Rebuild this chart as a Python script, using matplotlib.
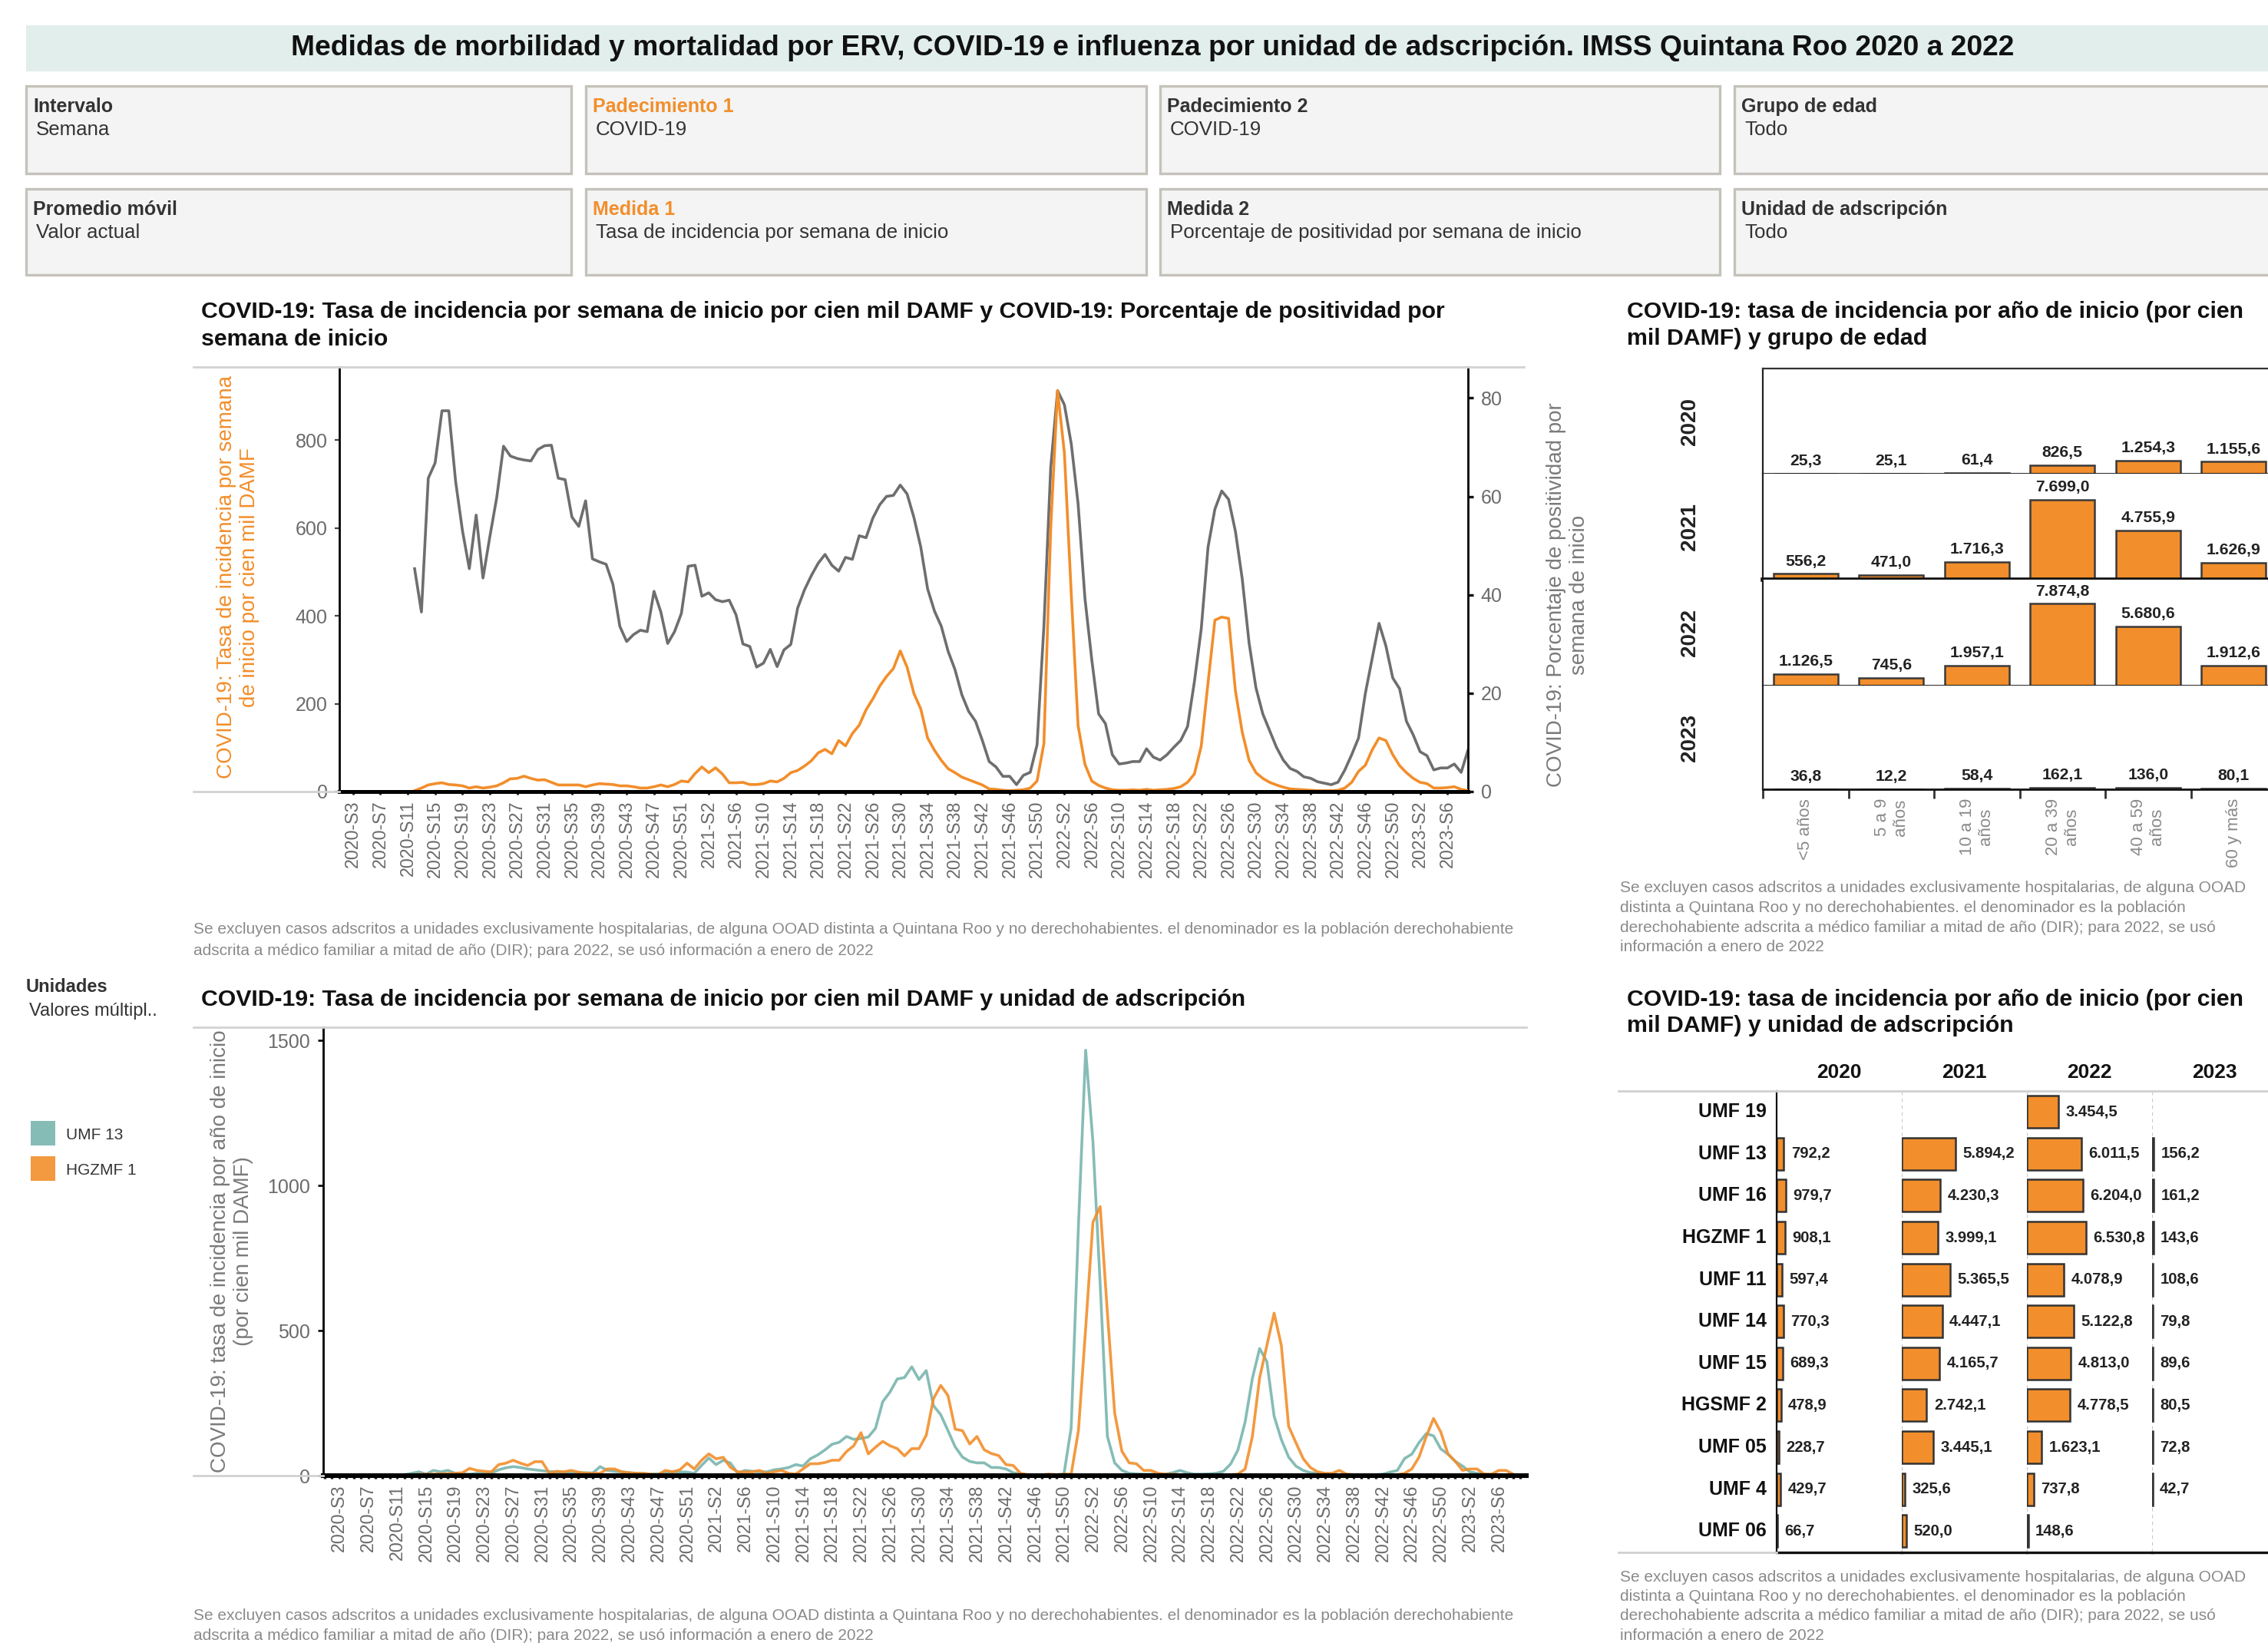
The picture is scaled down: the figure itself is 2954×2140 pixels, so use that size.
import numpy as np
import matplotlib
matplotlib.use("Agg")
import matplotlib.pyplot as plt
from matplotlib.lines import Line2D
from matplotlib.patches import Rectangle

plt.rcParams['font.family'] = ['Liberation Sans', 'DejaVu Sans']

W, H, DPI = 2954, 2140, 200

ORANGE = '#f28e2b'
TEAL = '#86bcb6'
GRAY_LINE = '#6e6e6e'
TXT = '#333333'
TICK = '#6b6b6b'
NOTE = '#8a8a8a'
TITLE_SIZE = 10.9

# ---- weekly series (2020-S1 .. 2023-S9) ----
years = [2020, 2021, 2022, 2023]
weeks_per_year = [53, 52, 52, 9]
week_labels = [f"{y}-S{w}" for y, n in zip(years, weeks_per_year) for w in range(1, n + 1)]

# COVID-19 incidence per 100k DAMF (left axis)
incidencia = [None] * 11 + [
    2, 8, 15, 18, 20, 16, 15, 13, 8, 11,
    8, 10, 13, 20, 29, 30, 35, 30, 26, 27,
    21, 15, 15, 15, 15, 11, 15, 18, 17, 16,
    13, 13, 11, 8, 8, 11, 15, 11, 16, 24,
    22, 41, 56, 43, 54, 40, 20, 20, 21, 16,
    16, 18, 24, 22, 30, 43, 48, 58, 70, 88,
    96, 86, 116, 104, 132, 151, 186, 211, 240, 262,
    280, 320, 283, 223, 188, 122, 94, 71, 52, 43,
    33, 27, 21, 15, 6, 5, 3, 2, 3, 4,
    8, 24, 109, 600, 912, 770, 450, 150, 62, 24,
    14, 8, 4, 3, 3, 4, 3, 5, 3, 4,
    5, 7, 11, 21, 40, 103, 248, 390, 397, 394,
    229, 135, 71, 43, 30, 21, 15, 10, 6, 5,
    4, 3, 2, 2, 2, 3, 8, 21, 46, 60,
    95, 122, 116, 84, 59, 43, 30, 21, 18, 8,
    8, 9, 11, 5, 2]

# COVID-19 positivity % (right axis)
positividad = [None] * 11 + [
    45.3, 36.5, 63.7, 66.8, 77.4, 77.4, 63.0, 53.0, 45.3, 56.2,
    43.4, 51.8, 59.7, 70.2, 68.2, 67.7, 67.4, 67.2, 69.5, 70.3,
    70.4, 63.7, 63.4, 55.8, 53.9, 59.1, 47.3, 46.7, 46.2, 42.1,
    33.6, 30.5, 31.9, 32.8, 32.5, 40.7, 36.5, 30.1, 32.5, 36.2,
    45.8, 46.0, 39.7, 40.4, 39.0, 38.6, 38.9, 35.9, 30.0, 29.5,
    25.3, 26.1, 28.9, 25.4, 28.8, 29.9, 37.3, 41.0, 43.9, 46.4,
    48.2, 46.0, 44.8, 47.6, 47.2, 52.0, 51.6, 55.6, 58.3, 60.0,
    60.2, 62.3, 60.5, 55.7, 49.7, 41.2, 36.7, 33.6, 28.5, 24.8,
    19.7, 16.3, 14.3, 10.4, 6.1, 5.0, 3.1, 3.1, 1.4, 3.3,
    3.9, 9.5, 33.6, 65.9, 81.5, 78.6, 70.7, 58.5, 39.3, 26.8,
    15.8, 13.8, 7.5, 5.6, 5.8, 6.1, 6.1, 8.7, 7.0, 6.4,
    7.5, 9.0, 10.4, 13.2, 22.3, 33.0, 49.7, 57.4, 61.1, 59.4,
    52.9, 43.2, 30.2, 21.1, 15.8, 12.4, 9.0, 6.4, 4.7, 4.1,
    3.0, 2.7, 2.0, 1.7, 1.4, 1.9, 4.4, 7.5, 10.9, 20.0,
    27.1, 34.2, 29.6, 23.1, 20.9, 14.3, 11.5, 8.1, 7.3, 4.4,
    4.8, 4.8, 5.6, 3.9, 8.4]

# incidence by unit
umf13 = [None] * 11 + [
    3, 8, 13, 5, 18, 13, 18, 8, 6, 5,
    8, 8, 8, 20, 27, 31, 28, 23, 20, 17,
    14, 13, 11, 10, 10, 10, 9, 31, 18, 15,
    13, 10, 8, 7, 5, 6, 10, 13, 13, 12,
    8, 35, 61, 38, 53, 43, 8, 18, 15, 13,
    13, 20, 23, 28, 38, 33, 58, 71, 88, 108,
    115, 135, 125, 128, 133, 163, 255, 288, 333, 338,
    375, 331, 362, 241, 210, 155, 99, 64, 49, 44,
    44, 28, 28, 23, 10, 5, 3, 3, 3, 3,
    3, 5, 165, 860, 1466, 1150, 660, 135, 44, 18,
    8, 6, 5, 5, 4, 5, 10, 18, 10, 5,
    5, 6, 8, 15, 40, 88, 185, 335, 438, 393,
    205, 124, 64, 33, 18, 10, 8, 5, 3, 3,
    3, 3, 3, 3, 3, 5, 12, 18, 59, 74,
    114, 145, 137, 92, 74, 49, 33, 13, 8, 5,
    3, 3, 3, 3, None]

hgzmf1 = [None] * 11 + [
    3, 3, 4, 5, 5, 6, 7, 8, 10, 25,
    18, 15, 13, 38, 43, 53, 43, 35, 48, 48,
    8, 15, 13, 18, 12, 8, 8, 8, 23, 23,
    13, 10, 8, 8, 5, 3, 18, 13, 20, 43,
    23, 53, 75, 58, 63, 28, 13, 13, 13, 18,
    8, 13, 18, 8, 5, 23, 41, 41, 45, 53,
    53, 83, 103, 148, 75, 98, 118, 103, 93, 68,
    93, 93, 139, 265, 311, 276, 160, 155, 109, 135,
    89, 76, 69, 38, 35, 8, 3, 3, 3, 5,
    3, 5, 5, 155, 509, 873, 927, 560, 216, 84,
    44, 41, 18, 18, 8, 5, 5, 3, 3, 3,
    3, 3, 3, 3, 3, 5, 23, 135, 337, 448,
    560, 448, 170, 114, 59, 28, 13, 8, 8, 18,
    5, 3, 3, 3, 3, 3, 3, 3, 8, 23,
    64, 135, 197, 150, 74, 49, 18, 23, 23, 5,
    5, 18, 18, 5, None]

# ---- yearly incidence by age group ----
anios = ['2020', '2021', '2022', '2023']
grupos = ['<5 años', '5 a 9\naños', '10 a 19\naños', '20 a 39\naños', '40 a 59\naños', '60 y más']
edad_2020 = [25.3, 25.1, 61.4, 826.5, 1254.3, 1155.6]
edad_2021 = [556.2, 471.0, 1716.3, 7699.0, 4755.9, 1626.9]
edad_2022 = [1126.5, 745.6, 1957.1, 7874.8, 5680.6, 1912.6]
edad_2023 = [36.8, 12.2, 58.4, 162.1, 136.0, 80.1]

# ---- yearly incidence by unit ----
unidades = ['UMF 19', 'UMF 13', 'UMF 16', 'HGZMF 1', 'UMF 11', 'UMF 14',
            'UMF 15', 'HGSMF 2', 'UMF 05', 'UMF 4', 'UMF 06']
unidad_2020 = [None, 792.2, 979.7, 908.1, 597.4, 770.3, 689.3, 478.9, 228.7, 429.7, 66.7]
unidad_2021 = [None, 5894.2, 4230.3, 3999.1, 5365.5, 4447.1, 4165.7, 2742.1, 3445.1, 325.6, 520.0]
unidad_2022 = [3454.5, 6011.5, 6204.0, 6530.8, 4078.9, 5122.8, 4813.0, 4778.5, 1623.1, 737.8, 148.6]
unidad_2023 = [None, 156.2, 161.2, 143.6, 108.6, 79.8, 89.6, 80.5, 72.8, 42.7, None]

filtros = [
    ('Intervalo', 'Semana', TXT), ('Padecimiento 1', 'COVID-19', ORANGE),
    ('Padecimiento 2', 'COVID-19', TXT), ('Grupo de edad', 'Todo', TXT),
    ('Promedio móvil', 'Valor actual', TXT), ('Medida 1', 'Tasa de incidencia por semana de inicio', ORANGE),
    ('Medida 2', 'Porcentaje de positividad por semana de inicio', TXT),
    ('Unidad de adscripción', 'Todo', TXT),
]

nota_ancha = ["Se excluyen casos adscritos a unidades exclusivamente hospitalarias, de alguna OOAD distinta a Quintana Roo y no derechohabientes. el denominador es la población derechohabiente",
              "adscrita a médico familiar a mitad de año (DIR); para 2022, se usó información a enero de 2022"]
nota_corta = ["Se excluyen casos adscritos a unidades exclusivamente hospitalarias, de alguna OOAD",
              "distinta a Quintana Roo y no derechohabientes. el denominador es la población",
              "derechohabiente adscrita a médico familiar a mitad de año (DIR); para 2022, se usó",
              "información a enero de 2022"]


def fmt_es(v):
    s = f"{v:,.1f}"
    return s.replace(',', 'X').replace('.', ',').replace('X', '.')


def to_arr(vals):
    return np.array([np.nan if v is None else v for v in vals], dtype=float)


fig = plt.figure(figsize=(W / DPI, H / DPI), dpi=DPI)
fig.patch.set_facecolor('white')


def add_ax(x0, y0, x1, y1):
    return fig.add_axes([x0 / W, 1 - y1 / H, (x1 - x0) / W, (y1 - y0) / H])


def ftext(x, y, s, **kw):
    return fig.text(x / W, 1 - y / H, s, **kw)


def fline(x0, x1, y0, y1, **kw):
    fig.add_artist(Line2D([x0 / W, x1 / W], [1 - y0 / H, 1 - y1 / H],
                          transform=fig.transFigure, **kw))


def frect(x0, y0, x1, y1, **kw):
    fig.add_artist(Rectangle((x0 / W, 1 - y1 / H), (x1 - x0) / W, (y1 - y0) / H,
                             transform=fig.transFigure, **kw))


# ---- header ----
frect(34, 33, 2990, 93, facecolor='#e1eeeb', edgecolor='none')
ftext(1501, 63, 'Medidas de morbilidad y mortalidad por ERV, COVID-19 e influenza por unidad de adscripción. IMSS Quintana Roo 2020 a 2022',
      ha='center', va='center', fontsize=13.4, fontweight='bold', color='#111111')

box_x = [(34, 744), (763, 1493), (1511, 2240), (2259, 2990)]
box_y = [(112, 226), (246, 358)]
for k, (lab, val, col) in enumerate(filtros):
    r, c = divmod(k, 4)
    x0, x1 = box_x[c]
    y0, y1 = box_y[r]
    frect(x0, y0, x1, y1, facecolor='#f4f4f4', edgecolor='#c4c2ba', linewidth=1.2)
    ftext(x0 + 9, y0 + 27, lab, ha='left', va='center', fontsize=9, fontweight='bold', color=col)
    ftext(x0 + 13, y0 + 57, val, ha='left', va='center', fontsize=9.3, color=TXT)

x = np.arange(len(week_labels))
tick_idx = list(range(2, len(week_labels), 4))


def week_axis(ax):
    ax.set_xticks(tick_idx)
    ax.set_xticklabels([week_labels[i] for i in tick_idx], rotation=90, fontsize=8.4, color=TICK)
    ax.set_xticks(x, minor=True)
    ax.tick_params(axis='x', which='major', length=1.6, width=1.0, color='#111111', pad=2.5)
    ax.tick_params(axis='x', which='minor', length=1.2, width=0.8, color='#111111')


# ---- weekly incidence + positivity ----
ftext(262, 406, 'COVID-19: Tasa de incidencia por semana de inicio por cien mil DAMF y COVID-19: Porcentaje de positividad por',
      ha='left', va='center', fontsize=TITLE_SIZE, fontweight='bold', color='#111111')
ftext(262, 442, 'semana de inicio', ha='left', va='center', fontsize=TITLE_SIZE, fontweight='bold', color='#111111')
fline(252, 1985, 478, 478, color='#d2d2d2', lw=1.0)
fline(252, 442, 1031, 1031, color='#d2d2d2', lw=1.0)

ax1 = add_ax(442, 478, 1912, 1031)
ax2 = ax1.twinx()
ax1.set_zorder(ax2.get_zorder() + 1)
ax1.patch.set_visible(False)
ax2.plot(x, to_arr(positividad), color=GRAY_LINE, lw=1.3, solid_joinstyle='round')
ax1.plot(x, to_arr(incidencia), color=ORANGE, lw=1.3, solid_joinstyle='round')
ax1.set_xlim(0, 165)
ax1.set_ylim(0, 966)
ax2.set_ylim(0, 86.3)
ax1.set_yticks([0, 200, 400, 600, 800])
ax2.set_yticks([0, 20, 40, 60, 80])
ax1.tick_params(axis='y', labelsize=9, labelcolor=TICK, length=2, width=0.8, color='#444444')
ax2.tick_params(axis='y', labelsize=9, labelcolor=TICK, length=2.5, width=1.2, color='#111111')
week_axis(ax1)
for ax in (ax1, ax2):
    ax.spines['top'].set_visible(False)
    ax.spines['left'].set_linewidth(1.0)
    ax.spines['right'].set_linewidth(1.0)
    ax.spines['bottom'].set_linewidth(1.8)
ax2.spines['left'].set_visible(False)
ax1.spines['right'].set_visible(False)

ftext(310, 752, 'COVID-19: Tasa de incidencia por semana\nde inicio por cien mil DAMF', rotation=90,
      ha='center', va='center', fontsize=10, color=ORANGE, multialignment='center')
ftext(2042, 775, 'COVID-19: Porcentaje de positividad por\nsemana de inicio', rotation=90,
      ha='center', va='center', fontsize=10, color='#7a7a7a', multialignment='center')
ftext(252, 1210, nota_ancha[0], ha='left', va='center', fontsize=7.5, color=NOTE)
ftext(252, 1238, nota_ancha[1], ha='left', va='center', fontsize=7.5, color=NOTE)

# ---- weekly incidence by unit ----
ftext(34, 1285, 'Unidades', ha='left', va='center', fontsize=8.5, fontweight='bold', color=TXT)
ftext(38, 1317, 'Valores múltipl..', ha='left', va='center', fontsize=8.5, color=TXT)
frect(40, 1460, 72, 1492, facecolor=TEAL, edgecolor='none')
frect(40, 1506, 72, 1538, facecolor=ORANGE, edgecolor='none', alpha=0.9)
ftext(86, 1478, 'UMF 13', ha='left', va='center', fontsize=7.5, color=TXT)
ftext(86, 1524, 'HGZMF 1', ha='left', va='center', fontsize=7.5, color=TXT)

ftext(262, 1302, 'COVID-19: Tasa de incidencia por semana de inicio por cien mil DAMF y unidad de adscripción',
      ha='left', va='center', fontsize=TITLE_SIZE, fontweight='bold', color='#111111')
fline(252, 1988, 1338, 1338, color='#d2d2d2', lw=1.0)
fline(252, 421, 1922, 1922, color='#d2d2d2', lw=1.0)

ax3 = add_ax(421, 1338, 1988, 1922)
ax3.plot(x, to_arr(umf13), color=TEAL, lw=1.3, solid_joinstyle='round')
ax3.plot(x, to_arr(hgzmf1), color=ORANGE, lw=1.3, alpha=0.9, solid_joinstyle='round')
ax3.set_xlim(-0.2, 165.8)
ax3.set_ylim(0, 1545)
ax3.set_yticks([0, 500, 1000, 1500])
ax3.tick_params(axis='y', labelsize=9, labelcolor=TICK, length=2.5, width=1.0, color='#111111')
week_axis(ax3)
ax3.tick_params(axis='x', which='minor', length=1.5, width=1.2)
for s in ('top', 'right'):
    ax3.spines[s].set_visible(False)
ax3.spines['left'].set_linewidth(1.0)
ax3.spines['bottom'].set_linewidth(2.2)
ftext(302, 1630, 'COVID-19: tasa de incidencia por año de inicio\n(por cien mil DAMF)', rotation=90,
      ha='center', va='center', fontsize=10, color='#7a7a7a', multialignment='center')
ftext(252, 2104, nota_ancha[0], ha='left', va='center', fontsize=7.5, color=NOTE)
ftext(252, 2131, nota_ancha[1], ha='left', va='center', fontsize=7.5, color=NOTE)

# ---- yearly incidence by age group ----
ftext(2119, 406, 'COVID-19: tasa de incidencia por año de inicio (por cien', ha='left', va='center',
      fontsize=TITLE_SIZE, fontweight='bold', color='#111111')
ftext(2119, 441, 'mil DAMF) y grupo de edad', ha='left', va='center',
      fontsize=TITLE_SIZE, fontweight='bold', color='#111111')

row_edges = [480, 617, 755, 893, 1028]
col_w = 111.5
edad_vals = [edad_2020, edad_2021, edad_2022, edad_2023]
for r, (anio, vals) in enumerate(zip(anios, edad_vals)):
    ax = add_ax(2296, row_edges[r], 2296 + 6 * col_w, row_edges[r + 1])
    xs = np.arange(len(grupos))
    ax.bar(xs, vals, width=0.75, color=ORANGE, edgecolor='#3a3a3a', linewidth=0.9)
    ax.set_xlim(-0.5, 5.5)
    ax.set_ylim(0, 10200)
    for xi, v in zip(xs, vals):
        ax.annotate(fmt_es(v), (xi, v), xytext=(0, 2.5), textcoords='offset points',
                    ha='center', va='bottom', fontsize=7.6, fontweight='bold', color='#222222')
    ax.set_yticks([])
    ax.spines['right'].set_visible(False)
    ax.spines['top'].set_visible(r == 0)
    ax.spines['top'].set_color('#333333')
    ax.spines['left'].set_color('#222222')
    ax.spines['bottom'].set_color('#111111')
    ax.spines['bottom'].set_linewidth(2.0 if r == 1 else 1.0)
    if r == len(anios) - 1:
        ax.set_xticks(np.arange(-0.5, 5.0, 1.0))
        ax.set_xticklabels([])
        ax.tick_params(axis='x', length=4.3, width=1.0, color='#333333')
    else:
        ax.set_xticks([])
    ftext(2201, (row_edges[r] + row_edges[r + 1]) / 2, anio, rotation=90, ha='center', va='center',
          fontsize=10, fontweight='bold', color='#222222')

for i, g in enumerate(grupos):
    ftext(2296 + (i + 0.5) * col_w, 1040, g, rotation=90, ha='center', va='top',
          fontsize=8, color='#8a8a8a', multialignment='center')

for k, line in enumerate(nota_corta):
    ftext(2110, 1157 + k * 25.5, line, ha='left', va='center', fontsize=7.5, color=NOTE)

# ---- yearly incidence by unit ----
ftext(2119, 1302, 'COVID-19: tasa de incidencia por año de inicio (por cien', ha='left', va='center',
      fontsize=TITLE_SIZE, fontweight='bold', color='#111111')
ftext(2119, 1336, 'mil DAMF) y unidad de adscripción', ha='left', va='center',
      fontsize=TITLE_SIZE, fontweight='bold', color='#111111')

pane_edges = [2314, 2477, 2640, 2803, 2966]
top_u, bot_u = 1421, 2021.5
row_h = (bot_u - top_u) / len(unidades)
fline(2108, 2990, top_u, top_u, color='#d0d0d0', lw=1.0)
fline(2108, 2314, bot_u, bot_u, color='#d0d0d0', lw=1.0)

unidad_vals = [unidad_2020, unidad_2021, unidad_2022, unidad_2023]
for c, (anio, vals) in enumerate(zip(anios, unidad_vals)):
    ax = add_ax(pane_edges[c], top_u, pane_edges[c + 1], bot_u)
    for j, v in enumerate(vals):
        if v is None:
            continue
        ax.barh(j, v, height=0.77, color=ORANGE, edgecolor='#333333', linewidth=0.9)
        ax.annotate(fmt_es(v), (v, j), xytext=(3.4, 0), textcoords='offset points',
                    ha='left', va='center', fontsize=7.3, fontweight='bold', color='#222222')
    ax.set_xlim(0, 13800)
    ax.set_ylim(len(unidades) - 0.5, -0.5)
    ax.set_xticks([])
    ax.set_yticks([])
    for s in ('top', 'right'):
        ax.spines[s].set_visible(False)
    ax.spines['bottom'].set_color('#111111')
    ax.spines['bottom'].set_linewidth(1.2)
    if c == 0:
        ax.spines['left'].set_color('#111111')
    else:
        ax.spines['left'].set_visible(False)
        ax.axvline(0, color='#c8c8c8', lw=0.8, ls=(0, (2, 2)), zorder=0)
    ftext((pane_edges[c] + pane_edges[c + 1]) / 2, 1397, anio, ha='center', va='center',
          fontsize=9.5, fontweight='bold', color='#111111')

for j, u in enumerate(unidades):
    ftext(2301, top_u + (j + 0.5) * row_h, u, ha='right', va='center',
          fontsize=9, fontweight='bold', color='#111111')

for k, line in enumerate(nota_corta):
    ftext(2110, 2054 + k * 25.5, line, ha='left', va='center', fontsize=7.5, color=NOTE)

fig.savefig('out.png', dpi=DPI, facecolor='white')
